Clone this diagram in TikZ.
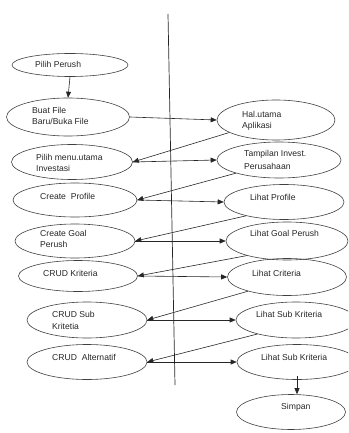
\documentclass[tikz,border=0pt]{standalone}
\usepackage{fontspec}
\setmainfont{Liberation Sans}
\usetikzlibrary{shapes.geometric,arrows.meta}

\tikzset{
  usecase/.style={ellipse, draw=black!75, line width=0.6pt, inner sep=0pt},
  caption/.style={anchor=west, inner sep=0pt, font=\fontsize{8.6}{10}\selectfont, text=black!85},
  flow/.style={draw=black!85, line width=0.6pt, -{Triangle[length=6pt,width=5pt]}},
}

\begin{document}
\begin{tikzpicture}[x=1pt,y=-1pt]
\useasboundingbox (0,0) rectangle (348,433);
\clip (0,0) rectangle (348,433);

% system boundary
\draw[black!85, line width=0.7pt] (168,14) coordinate (top) -- (175,385) coordinate (bot);

% left column
\node[usecase, minimum width=116pt, minimum height=23pt] (pp) at (70,65) {};
\node[caption] (tpp) at (35,64) {Pilih Perush};

\node[usecase, minimum width=123pt, minimum height=38pt] (bf) at (68,117) {};
\node[caption] (tbf1) at (32,110) {Buat File};
\node[caption] (tbf2) at (32,121) {Baru/Buka File};

\node[usecase, minimum width=121pt, minimum height=35pt] (pm) at (72,162) {};
\node[caption] (tpm1) at (36,157) {Pilih menu.utama};
\node[caption] (tpm2) at (36,168) {Investasi};

\node[usecase, minimum width=124pt, minimum height=34pt] (cp) at (75,200) {};
\node[caption] (tcp) at (40,196) {Create\ \ Profile};

\node[usecase, minimum width=120pt, minimum height=34pt] (cg) at (75,241) {};
\node[caption] (tcg1) at (40,233) {Create Goal};
\node[caption] (tcg2) at (40,244) {Perush};

\node[usecase, minimum width=119pt, minimum height=31pt] (ck) at (78,276) {};
\node[caption] (tck) at (43,273) {CRUD Kriteria};

\node[usecase, minimum width=120pt, minimum height=36pt] (cs) at (87,320) {};
\node[caption] (tcs1) at (52,314) {CRUD Sub};
\node[caption] (tcs2) at (52,326) {Kritetia};

\node[usecase, minimum width=120pt, minimum height=35pt] (ca) at (87,362) {};
\node[caption] (tca) at (52,357) {CRUD\ \ Alternatif};

% right column
\node[usecase, minimum width=118pt, minimum height=40pt] (hu) at (276,120) {};
\node[caption] (thu1) at (242,114) {Hal.utama};
\node[caption] (thu2) at (242,126) {Aplikasi};

\node[usecase, minimum width=124pt, minimum height=36pt] (ti) at (279,160) {};
\node[caption] (tti1) at (244,154) {Tampilan Invest.};
\node[caption] (tti2) at (244,166) {Perusahaan};

\node[usecase, minimum width=120pt, minimum height=35pt] (lp) at (284,202) {};
\node[caption] (tlp) at (250,197) {Lihat Profile};

\node[usecase, minimum width=122pt, minimum height=38pt] (lg) at (287,241) {};
\node[caption] (tlg) at (250,233) {Lihat Goal Perush};

\node[usecase, minimum width=119pt, minimum height=37pt] (lc) at (287,277) {};
\node[caption] (tlc) at (252,273) {Lihat Criteria};

\node[usecase, minimum width=120pt, minimum height=36pt] (ls) at (296,320) {};
\node[caption] (tls) at (256,314) {Lihat Sub Kriteria};

\node[usecase, minimum width=120pt, minimum height=35pt] (lt) at (297,362) {};
\node[caption] (tlt) at (261,357) {Lihat Sub Kriteria};

\node[usecase, minimum width=109pt, minimum height=35pt] (sp) at (291,412) {};
\node[caption] (tsp) at (281,407) {Simpan};

% flow between the two columns
\draw[flow] (pp.south) -- (bf.north);
\draw[flow] (bf.east) -- (hu.west);
\draw[flow] (hu.195) -- (pm.east);
\draw[flow] (pm.east) -- (ti.west);
\draw[flow] (ti.197) -- (cp.east);
\draw[flow] (cp.east) -- (lp.west);
\draw[flow] (lp.200) -- (cg.east);
\draw[flow] (cg.east) -- (lg.west);
\draw[flow] (lg.200) -- (ck.east);
\draw[flow] (ck.east) -- (lc.west);
\draw[flow] (lc.200) -- (cs.east);
\draw[flow] (cs.east) -- (ls.west);
\draw[flow] (ls.200) -- (ca.east);
\draw[flow] (ca.east) -- (lt.west);
\draw[flow] ([yshift=4pt]lt.south) -- (lt.south |- sp.north);
\end{tikzpicture}
\end{document}
